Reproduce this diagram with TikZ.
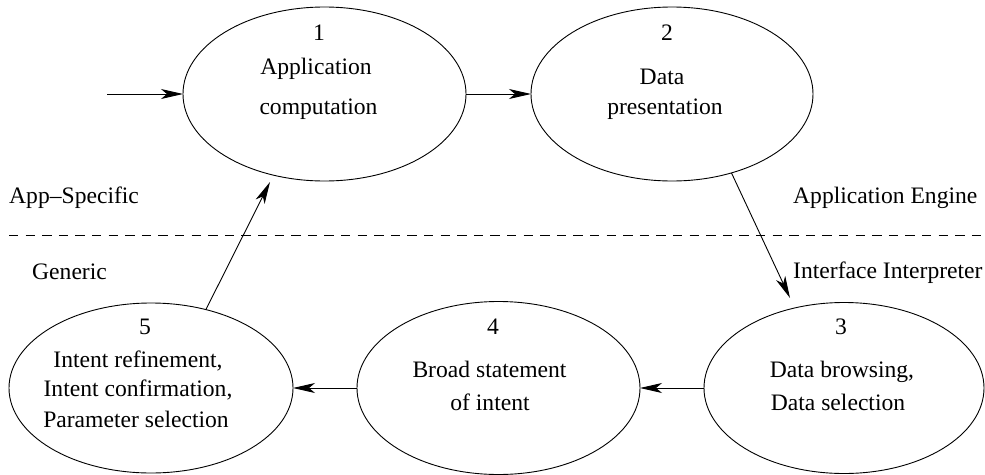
\documentclass[tikz,border=0pt]{standalone}
\usepackage{fontspec}
\setmainfont{Liberation Serif}
\usetikzlibrary{shapes.geometric,arrows.meta,calc}
\tikzset{
  ell/.style={draw, ellipse, line width=0.9pt, inner sep=0pt, outer sep=0pt},
  lbl/.style={anchor=base, inner sep=0pt, font=\fontsize{23.6}{28}\selectfont},
  side/.style={anchor=base west, inner sep=0pt, font=\fontsize{23.6}{28}\selectfont},
  conn/.style={line width=0.9pt, -{Stealth[length=22pt,width=10pt,inset=6pt]}},
  divider/.style={line width=0.8pt, dash pattern=on 9.3pt off 7.3pt}
}
\begin{document}
\begin{tikzpicture}[x=1pt,y=-1pt]
\useasboundingbox (0,0) rectangle (985,474);
% ellipses
\node[ell, minimum width=283pt, minimum height=174pt] (e1) at (324.5,94) {};
\node[ell, minimum width=282pt, minimum height=174pt] (e2) at (672,94) {};
\node[ell, minimum width=280pt, minimum height=171pt] (e3) at (844,388) {};
\node[ell, minimum width=283pt, minimum height=173pt] (e4) at (498.5,388) {};
\node[ell, minimum width=284pt, minimum height=170pt] (e5) at (151,388) {};
% texts
\node[lbl] (n1) at (319,40) {1};
\node[lbl] (t1a) at (316,74) {Application};
\node[lbl] (t1b) at (318.5,114) {computation};
\node[lbl] (n2) at (667,40) {2};
\node[lbl] (t2a) at (662,84) {Data};
\node[lbl] (t2b) at (665,114) {presentation};
\node[lbl] (n3) at (841,334) {3};
\node[lbl] (t3a) at (842,377) {Data browsing,};
\node[lbl] (t3b) at (838,410) {Data selection};
\node[lbl] (n4) at (493,334) {4};
\node[lbl] (t4a) at (489.5,377) {Broad statement};
\node[lbl] (t4b) at (490,410) {of intent};
\node[lbl] (n5) at (145,334) {5};
\node[lbl] (t5a) at (138,367) {Intent refinement,};
\node[lbl] (t5b) at (138,396) {Intent confirmation,};
\node[lbl] (t5c) at (136,427) {Parameter selection};
% side labels
\node[side] (s1) at (9,203) {App–Specific};
\node[side] (s2) at (32,279) {Generic};
\node[side] (s3) at (793,203) {Application Engine};
\node[side] (s4) at (793,278) {Interface Interpreter};
% divider
\coordinate (dl) at (9,235.5);
\coordinate (dr) at (985,235.5);
\draw[divider] (dl) -- (dr);
% connectors
\coordinate (in) at (107,94);
\draw[conn] (in) -- (e1.west);
\draw[conn] (e1.east) -- (e2.west);
\draw[conn] (e2.-53.6) -- ($(e3.center)+(-54,-90)$);
\draw[conn] (e3.west) -- (e4.east);
\draw[conn] (e4.west) -- (e5.east);
\draw[conn] (e5.55) -- ($(e1.center)+(-54.5,88)$);
\end{tikzpicture}
\end{document}
